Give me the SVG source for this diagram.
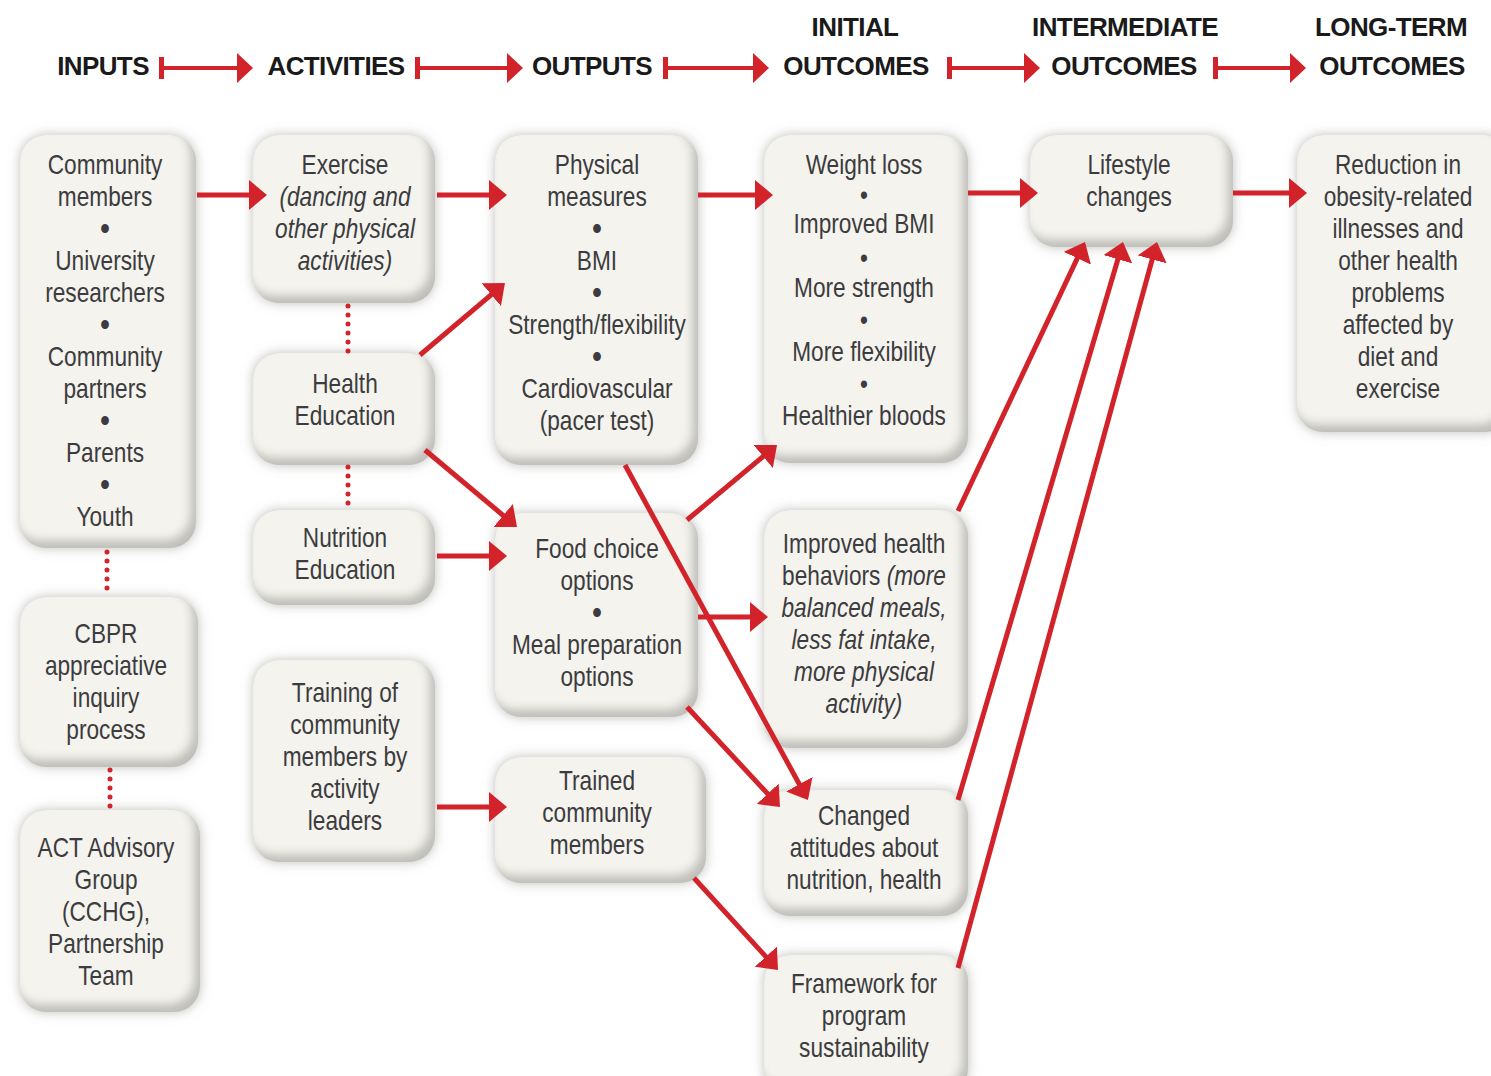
<svg xmlns="http://www.w3.org/2000/svg" width="1491" height="1076" viewBox="0 0 1491 1076">
<defs>
<style>
.hd{font-family:"Liberation Sans",Arial,sans-serif;font-weight:bold;font-size:26px;fill:#1a1a1a;text-anchor:middle;letter-spacing:-0.6px}
.t{font-family:"Liberation Sans",Arial,sans-serif;font-size:27px;fill:#3c3c3e;text-anchor:middle}
.i{font-style:italic}
.b{font-size:34px}
.box{fill:#c0bfba;filter:url(#bev)}
.c{stroke:#d2232a;stroke-width:5;fill:none;marker-end:url(#ah)}
.d{stroke:#d2232a;stroke-width:5;fill:none;stroke-linecap:round;stroke-dasharray:0 9}
.ha{fill:#d2232a}
</style>
<marker id="ah" markerUnits="userSpaceOnUse" markerWidth="18" markerHeight="30" refX="6" refY="15" orient="auto" viewBox="0 0 18 30">
<path d="M0,0 L18,15 L0,30 z" fill="#d2232a"/>
</marker>
<filter id="bev" x="-25%" y="-25%" width="150%" height="150%">
<feGaussianBlur in="SourceAlpha" stdDeviation="6" result="sb"/>
<feFlood flood-color="#8a8a88" flood-opacity="0.55"/>
<feComposite in2="sb" operator="in" result="shadow"/>
<feGaussianBlur in="SourceAlpha" stdDeviation="5" result="ib"/>
<feOffset in="ib" dx="-6" dy="-8" result="io"/>
<feComposite in="io" in2="SourceAlpha" operator="in" result="inner"/>
<feFlood flood-color="#f4f3ee"/>
<feComposite in2="inner" operator="in" result="light"/>
<feMerge><feMergeNode in="shadow"/><feMergeNode in="SourceGraphic"/><feMergeNode in="light"/></feMerge>
</filter>
</defs>
<rect width="1491" height="1076" fill="#ffffff"/>

<g id="headers">
<text class="hd" x="103" y="75">INPUTS</text>
<text class="hd" x="336" y="75">ACTIVITIES</text>
<text class="hd" x="592" y="75">OUTPUTS</text>
<text class="hd" x="855" y="36">INITIAL</text>
<text class="hd" x="856" y="75">OUTCOMES</text>
<text class="hd" x="1125" y="36">INTERMEDIATE</text>
<text class="hd" x="1124" y="75">OUTCOMES</text>
<text class="hd" x="1391" y="36">LONG-TERM</text>
<text class="hd" x="1392" y="75">OUTCOMES</text>
<g id="header-arrows">
<path class="ha" d="M159,57 h5 v9 h73 v-13 l16,15 l-16,15 v-13 h-73 v9 h-5 z"/>
<path class="ha" d="M415,57 h5 v9 h87 v-13 l16,15 l-16,15 v-13 h-87 v9 h-5 z"/>
<path class="ha" d="M663,57 h5 v9 h85 v-13 l16,15 l-16,15 v-13 h-85 v9 h-5 z"/>
<path class="ha" d="M947,57 h5 v9 h72 v-13 l16,15 l-16,15 v-13 h-72 v9 h-5 z"/>
<path class="ha" d="M1213,57 h5 v9 h72 v-13 l16,15 l-16,15 v-13 h-72 v9 h-5 z"/>
</g>
</g>

<g id="n-inputs1">
<rect class="box" x="20" y="135" width="176" height="413" rx="26"/>
<g transform="translate(105 0) scale(0.84 1)"><text class="t"><tspan x="0" y="174">Community</tspan><tspan x="0" y="206">members</tspan><tspan class="b" x="0" y="240">•</tspan><tspan x="0" y="270">University</tspan><tspan x="0" y="302">researchers</tspan><tspan class="b" x="0" y="336">•</tspan><tspan x="0" y="366">Community</tspan><tspan x="0" y="398">partners</tspan><tspan class="b" x="0" y="432">•</tspan><tspan x="0" y="462">Parents</tspan><tspan class="b" x="0" y="496">•</tspan><tspan x="0" y="526">Youth</tspan></text></g>
</g>
<g id="n-cbpr">
<rect class="box" x="20" y="597" width="178" height="170" rx="26"/>
<g transform="translate(106 0) scale(0.84 1)"><text class="t"><tspan x="0" y="643">CBPR</tspan><tspan x="0" y="675">appreciative</tspan><tspan x="0" y="707">inquiry</tspan><tspan x="0" y="739">process</tspan></text></g>
</g>
<g id="n-act">
<rect class="box" x="20" y="810" width="180" height="202" rx="26"/>
<g transform="translate(106 0) scale(0.84 1)"><text class="t"><tspan x="0" y="857">ACT Advisory</tspan><tspan x="0" y="889">Group</tspan><tspan x="0" y="921">(CCHG),</tspan><tspan x="0" y="953">Partnership</tspan><tspan x="0" y="985">Team</tspan></text></g>
</g>
<g id="n-exercise">
<rect class="box" x="253" y="135" width="182" height="168" rx="26"/>
<g transform="translate(345 0) scale(0.84 1)"><text class="t"><tspan x="0" y="174">Exercise</tspan><tspan class="i" x="0" y="206">(dancing and</tspan><tspan class="i" x="0" y="238">other physical</tspan><tspan class="i" x="0" y="270">activities)</tspan></text></g>
</g>
<g id="n-health">
<rect class="box" x="253" y="353" width="182" height="112" rx="26"/>
<g transform="translate(345 0) scale(0.84 1)"><text class="t"><tspan x="0" y="393">Health</tspan><tspan x="0" y="425">Education</tspan></text></g>
</g>
<g id="n-nutrition">
<rect class="box" x="253" y="510" width="182" height="95" rx="26"/>
<g transform="translate(345 0) scale(0.84 1)"><text class="t"><tspan x="0" y="547">Nutrition</tspan><tspan x="0" y="579">Education</tspan></text></g>
</g>
<g id="n-training">
<rect class="box" x="253" y="660" width="182" height="202" rx="26"/>
<g transform="translate(345 0) scale(0.84 1)"><text class="t"><tspan x="0" y="702">Training of</tspan><tspan x="0" y="734">community</tspan><tspan x="0" y="766">members by</tspan><tspan x="0" y="798">activity</tspan><tspan x="0" y="830">leaders</tspan></text></g>
</g>
<g id="n-physical">
<rect class="box" x="495" y="135" width="203" height="330" rx="26"/>
<g transform="translate(597 0) scale(0.84 1)"><text class="t"><tspan x="0" y="174">Physical</tspan><tspan x="0" y="206">measures</tspan><tspan class="b" x="0" y="240">•</tspan><tspan x="0" y="270">BMI</tspan><tspan class="b" x="0" y="304">•</tspan><tspan x="0" y="334">Strength/flexibility</tspan><tspan class="b" x="0" y="368">•</tspan><tspan x="0" y="398">Cardiovascular</tspan><tspan x="0" y="430">(pacer test)</tspan></text></g>
</g>
<g id="n-food">
<rect class="box" x="495" y="513" width="203" height="204" rx="26"/>
<g transform="translate(597 0) scale(0.84 1)"><text class="t"><tspan x="0" y="558">Food choice</tspan><tspan x="0" y="590">options</tspan><tspan class="b" x="0" y="624">•</tspan><tspan x="0" y="654">Meal preparation</tspan><tspan x="0" y="686">options</tspan></text></g>
</g>
<g id="n-trained">
<rect class="box" x="495" y="757" width="211" height="126" rx="26"/>
<g transform="translate(597 0) scale(0.84 1)"><text class="t"><tspan x="0" y="790">Trained</tspan><tspan x="0" y="822">community</tspan><tspan x="0" y="854">members</tspan></text></g>
</g>
<g id="n-weight">
<rect class="box" x="764" y="135" width="204" height="328" rx="26"/>
<g transform="translate(864 0) scale(0.84 1)"><text class="t"><tspan x="0" y="174">Weight loss</tspan><tspan x="0" y="204">•</tspan><tspan x="0" y="233">Improved BMI</tspan><tspan x="0" y="267">•</tspan><tspan x="0" y="297">More strength</tspan><tspan x="0" y="329">•</tspan><tspan x="0" y="361">More flexibility</tspan><tspan x="0" y="393">•</tspan><tspan x="0" y="425">Healthier bloods</tspan></text></g>
</g>
<g id="n-improved">
<rect class="box" x="764" y="510" width="204" height="238" rx="26"/>
<g transform="translate(864 0) scale(0.84 1)"><text class="t"><tspan x="0" y="553">Improved health</tspan><tspan x="0" y="585">behaviors <tspan class="i">(more</tspan></tspan><tspan class="i" x="0" y="617">balanced meals,</tspan><tspan class="i" x="0" y="649">less fat intake,</tspan><tspan class="i" x="0" y="681">more physical</tspan><tspan class="i" x="0" y="713">activity)</tspan></text></g>
</g>
<g id="n-changed">
<rect class="box" x="764" y="790" width="204" height="126" rx="26"/>
<g transform="translate(864 0) scale(0.84 1)"><text class="t"><tspan x="0" y="825">Changed</tspan><tspan x="0" y="857">attitudes about</tspan><tspan x="0" y="889">nutrition, health</tspan></text></g>
</g>
<g id="n-framework">
<rect class="box" x="764" y="955" width="204" height="140" rx="26"/>
<g transform="translate(864 0) scale(0.84 1)"><text class="t"><tspan x="0" y="993">Framework for</tspan><tspan x="0" y="1025">program</tspan><tspan x="0" y="1057">sustainability</tspan></text></g>
</g>
<g id="n-lifestyle">
<rect class="box" x="1030" y="135" width="203" height="112" rx="26"/>
<g transform="translate(1129 0) scale(0.84 1)"><text class="t"><tspan x="0" y="174">Lifestyle</tspan><tspan x="0" y="206">changes</tspan></text></g>
</g>
<g id="n-reduction">
<rect class="box" x="1297" y="135" width="214" height="297" rx="26"/>
<g transform="translate(1398 0) scale(0.84 1)"><text class="t"><tspan x="0" y="174">Reduction in</tspan><tspan x="0" y="206">obesity-related</tspan><tspan x="0" y="238">illnesses and</tspan><tspan x="0" y="270">other health</tspan><tspan x="0" y="302">problems</tspan><tspan x="0" y="334">affected by</tspan><tspan x="0" y="366">diet and</tspan><tspan x="0" y="398">exercise</tspan></text></g>
</g>

<g id="connectors">
<path class="c" d="M197,195 L255,195"/>
<path class="c" d="M437,195 L495,195"/>
<path class="c" d="M420,355 L495.8,290.8"/>
<path class="c" d="M425,450 L507.8,519.3"/>
<path class="c" d="M437,556 L495,556"/>
<path class="c" d="M437,807 L495,807"/>
<path class="c" d="M698,195 L761,195"/>
<path class="c" d="M687,520 L767.8,452.7"/>
<path class="c" d="M698,617 L756,617"/>
<path class="c" d="M625,465 L802.2,789.5"/>
<path class="c" d="M687,707 L771.8,798.2"/>
<path class="c" d="M694,878 L769.9,961.1"/>
<path class="c" d="M968,193 L1026,193"/>
<path class="c" d="M1233,193 L1295,193"/>
<path class="c" d="M958,511 L1079.9,252.8"/>
<path class="c" d="M958,800 L1119.6,253.5"/>
<path class="c" d="M958,968 L1153.8,253.6"/>
<path class="d" d="M107,552 V595"/>
<path class="d" d="M110,770 V808"/>
<path class="d" d="M348,306 V352"/>
<path class="d" d="M348,467 V510"/>
</g>
</svg>
